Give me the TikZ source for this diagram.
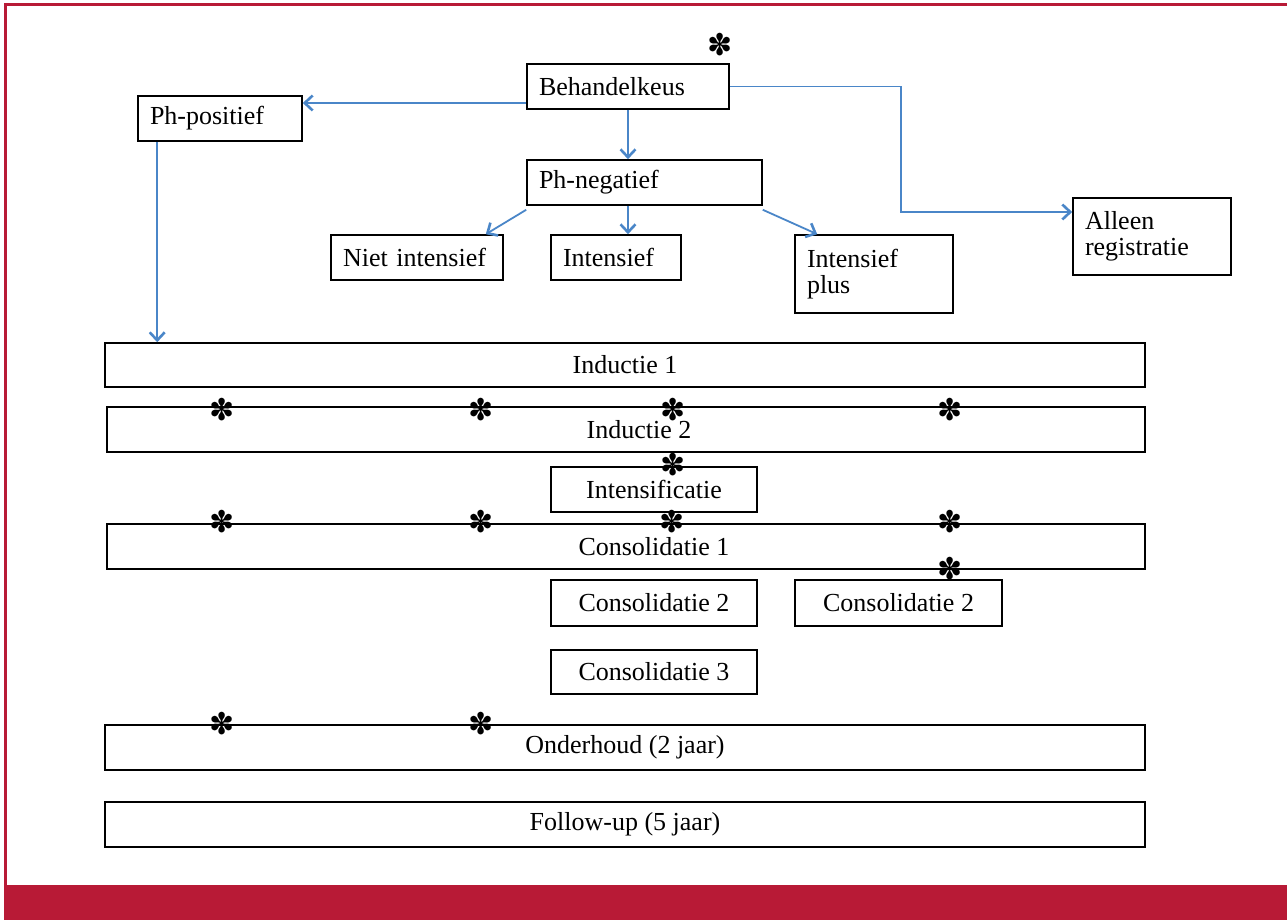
\documentclass[tikz,border=0pt]{standalone}
\usepackage{fontspec}
\setmainfont{Liberation Serif}
\newfontfamily\starfont{DejaVu Sans}
\usetikzlibrary{arrows.meta}
\definecolor{framered}{RGB}{184,26,54}
\definecolor{linkblue}{RGB}{74,134,200}
\tikzset{
    box/.style={draw, line width=1.6pt, inner sep=0pt, font=\fontsize{26}{26.5}\selectfont}, % kader met tekst in het midden
    lbox/.style={box, align=left, inner xsep=12pt}, % kader met tekst links
    star/.style={inner sep=0pt, font=\starfont\fontsize{30}{30}\selectfont}, % sterretje
    link/.style={draw=linkblue, line width=1.8pt, -{Straight Barb[length=8pt,width=15pt,line width=2.6pt]}} % blauwe pijl
}

\begin{document}
\begin{tikzpicture}[x=1pt, y=-1pt]
    \useasboundingbox (0,0) rectangle (1287,920);
    % rode rand en balk
    \fill[framered] (4,885) rectangle (1287,920);
    \draw[framered, line width=3pt] (5,885) -- (5,5) -- (1287,5);

    % keuze bovenaan
    \node[lbox, text width=178pt, minimum height=45pt] (beh) at (628,86.5) {Behandelkeus};
    \node[lbox, text width=140pt, minimum height=45pt] (pos) at (220,118.5) {Ph-positief};
    \node[lbox, text width=211pt, minimum height=45pt] (neg) at (644.5,182.5) {Ph-negatief};
    \node[lbox, text width=148pt, minimum height=45pt] (niet) at (417,257.5) {Niet intensief};
    \node[lbox, text width=106pt, minimum height=45pt] (int) at (616,257.5) {Intensief};
    \node[lbox, text width=134pt, minimum height=78pt] (plus) at (874,274) {Intensief\\plus};
    \node[lbox, text width=134pt, minimum height=77pt] (alleen) at (1152,236.5) {Alleen\\registratie};

    % behandelblokken
    \node[box, minimum width=1040pt, minimum height=44pt] (ind1) at (625,365) {Inductie 1};
    \node[box, minimum width=1038pt, minimum height=45pt] (ind2) at (626,429.5) {\hspace*{26pt}Inductie 2};
    \node[box, minimum width=206pt, minimum height=45pt] (intens) at (654,489.5) {Intensificatie};
    \node[box, minimum width=1038pt, minimum height=45pt] (cons1) at (626,546.5) {\hspace*{56pt}Consolidatie 1};
    \node[box, minimum width=206pt, minimum height=46pt] (cons2a) at (654,603) {Consolidatie 2};
    \node[box, minimum width=207pt, minimum height=46pt] (cons2b) at (898.5,603) {Consolidatie 2};
    \node[box, minimum width=206pt, minimum height=44pt] (cons3) at (654,672) {Consolidatie 3};
    \node[box, minimum width=1040pt, minimum height=45pt] (onder) at (625,747.5) {Onderhoud (2 jaar)};
    \node[box, minimum width=1040pt, minimum height=45pt] (follow) at (625,824.5) {Follow-up (5 jaar)};

    % pijlen
    \coordinate (bend) at (901,212);
    \draw[link] ([yshift=-16.5pt]beh.west) -- ([yshift=-16.5pt]beh.west -| pos.east);
    \draw[link] ([xshift=20pt]pos.south west) -- ([xshift=20pt]pos.south west |- ind1.north);
    \draw[link] (beh.south) -- (beh.south |- neg.north);
    \draw[link] (beh.south |- neg.south) -- (beh.south |- int.north);
    \draw[link] ([yshift=-4pt]neg.south west) -- ([xshift=-18pt]niet.north east);
    \draw[link] ([yshift=-4pt]neg.south east) -- ([xshift=23pt]plus.north west);
    \draw[link] (beh.east) -| (bend) -- (bend -| alleen.west);

    % sterretjes
    \foreach \sx/\sy [count=\i] in {720/45, 222/410, 481/410, 673/410, 950/410, 673/465,
        222/522, 481/522, 672/522, 950/522, 950/569, 222/724, 481/724}
        \node[star] (ster\i) at (\sx,\sy) {✽};
\end{tikzpicture}
\end{document}
